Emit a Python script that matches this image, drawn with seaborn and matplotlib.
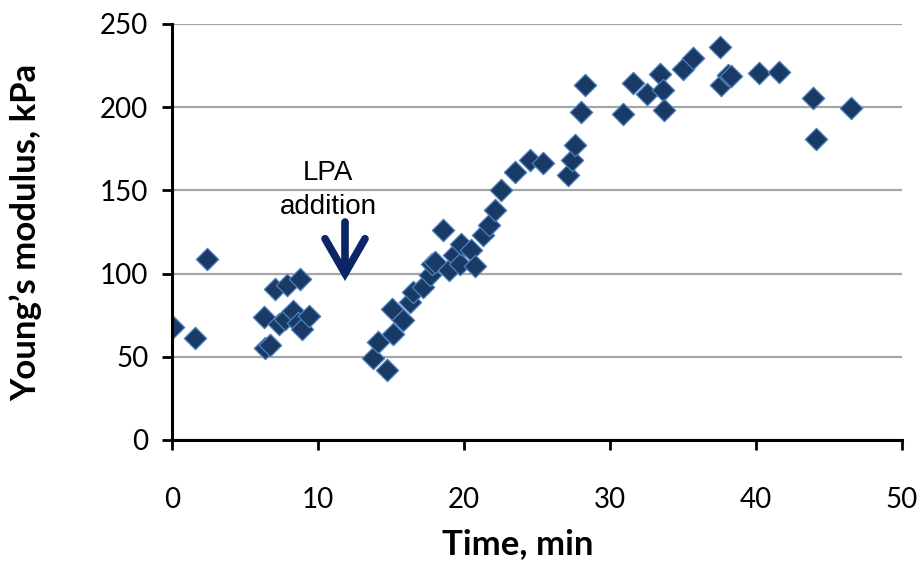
import matplotlib
matplotlib.use("Agg")
import matplotlib.pyplot as plt
import seaborn as sns
import pandas as pd

# ---- data ----
time_min = [0.05, 1.6, 2.4,
            6.3, 6.4, 6.7, 7.05, 7.35, 7.75, 7.9, 8.3, 8.65, 8.8, 8.9, 9.4,
            13.8, 14.1, 14.75, 15.05, 15.15, 15.8, 16.3, 16.5, 17.2, 17.65, 17.8,
            18.0, 18.55, 19.0, 19.3, 19.7, 19.8, 20.5, 20.75, 21.3, 21.7,
            22.1, 22.5, 23.5, 24.5, 25.4,
            27.1, 27.4, 27.6, 28.0, 28.3,
            30.9, 31.6, 32.5, 33.4, 33.6, 33.7, 35.0, 35.7,
            37.5, 37.6, 38.1, 38.3, 40.2, 41.6, 43.9, 44.1, 46.5]
modulus_kpa = [68, 61, 109,
               74, 55, 57, 90.5, 69.5, 73, 93, 77.5, 70.5, 97, 67, 74.5,
               49, 59, 42, 79, 64, 72, 83, 89, 92, 99, 106,
               107, 126, 102, 111, 106, 118, 114, 104.6, 123, 129,
               138, 150, 161, 168, 166.5,
               159, 168, 177, 197, 213.5,
               196, 214.5, 208, 220, 210.5, 198.5, 223, 229.5,
               236, 213.5, 219.5, 218.5, 220.5, 221, 205.5, 181, 199.5]

x_ticks = [0, 10, 20, 30, 40, 50]
y_ticks = [0, 50, 100, 150, 200, 250]
x_label = "Time, min"
y_label = "Young\u2019s modulus, kPa"
annot_lines = ["LPA", "addition"]
arrow_x = 11.85
arrow_from = 131
arrow_to = 95.5

df = pd.DataFrame({"time": time_min, "modulus": modulus_kpa})

sns.set_theme(style="white")
plt.rcParams["font.family"] = ["Lato", "DejaVu Sans"]

fig = plt.figure(figsize=(9.19, 5.63), dpi=100)
ax = fig.add_axes([172 / 919, 1 - 440 / 563, 730 / 919, 416 / 563])

sns.scatterplot(data=df, x="time", y="modulus", ax=ax, marker="D", s=130,
                color="#1A3A66", edgecolor="#4F81BD", linewidth=0.9, zorder=3,
                legend=False)

ax.set_xlim(0, 50)
ax.set_ylim(0, 250)
ax.set_xticks(x_ticks)
ax.set_yticks(y_ticks)
ax.set_xticklabels([str(v) for v in x_ticks])
ax.set_yticklabels([str(v) for v in y_ticks])

ax.yaxis.grid(True, color="#A6A6A6", linewidth=1.6, zorder=0)
ax.xaxis.grid(False)
ax.set_axisbelow(True)

for side in ["top", "right"]:
    ax.spines[side].set_visible(False)
for side in ["left", "bottom"]:
    ax.spines[side].set_color("black")
    ax.spines[side].set_linewidth(2.2)
    ax.spines[side].set_zorder(4)

ax.tick_params(axis="both", which="major", direction="out", length=7, width=2,
               color="black", labelsize=20, labelcolor="black",
               left=True, bottom=True)
ax.tick_params(axis="x", pad=27)
ax.tick_params(axis="y", pad=10)

ax.set_xlabel(x_label, fontsize=25, fontweight="bold", color="black")
ax.set_ylabel(y_label, fontsize=25, fontweight="bold", color="black")
ax.xaxis.set_label_coords(0.474, -0.212)
ax.yaxis.set_label_coords(-0.178, 0.5)

# annotation: LPA addition
ax.text(10.7, 156.3, annot_lines[0], ha="center", va="baseline",
        fontsize=20, family=["Liberation Sans", "DejaVu Sans"], color="black")
ax.text(10.7, 135.8, annot_lines[1], ha="center", va="baseline",
        fontsize=20, family=["Liberation Sans", "DejaVu Sans"], color="black")
ax.annotate("", xy=(arrow_x, arrow_to), xytext=(arrow_x, arrow_from),
            arrowprops=dict(arrowstyle="->,head_length=1.25,head_width=0.72",
                            lw=5.5, color="#0B2566", mutation_scale=20,
                            shrinkA=0, shrinkB=0, capstyle="round",
                            joinstyle="miter"),
            zorder=5)

fig.savefig("out.png", dpi=100)
